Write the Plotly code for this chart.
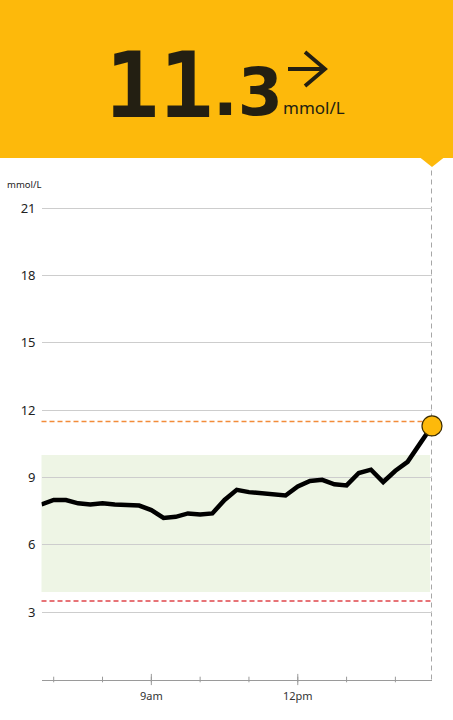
import pandas as pd
import plotly.graph_objects as go

# glucose readings every 15 minutes, 6:45 -> 14:45
times = pd.date_range("2024-05-14 06:45", "2024-05-14 14:45", freq="15min")
glucose = [7.8, 8.0, 8.0, 7.85, 7.8, 7.85, 7.8, 7.75, 7.75, 7.55, 7.2,
           7.25, 7.4, 7.35, 7.4, 8.0, 8.45, 8.35, 8.3, 8.2, 8.2, 8.6,
           8.85, 8.9, 8.7, 8.65, 9.2, 9.35, 8.8, 9.3, 9.7, 10.5, 11.3]

y_ticks = [3, 6, 9, 12, 15, 18, 21]
tick_hours = pd.date_range("2024-05-14 07:00", "2024-05-14 14:00", freq="1h")
label_times = ["2024-05-14 09:00", "2024-05-14 12:00"]
label_text = ["9am", "12pm"]

target_low, target_high = 3.9, 10.0
low_alarm = 3.5
high_alarm = 11.5
current = glucose[-1]

W, H = 453, 720
BANNER = "#FDB90B"
DARK = "#231F12"


def px(x, y):
    # pixel position -> paper coords
    return x / W, 1 - y / H


fig = go.Figure()

fig.add_trace(go.Scatter(
    x=times, y=glucose, mode="lines",
    line=dict(color="black", width=4.5),
    hoverinfo="skip"))

# last reading dot
fig.add_trace(go.Scatter(
    x=[times[-1]], y=[current], mode="markers",
    marker=dict(size=20, color=BANNER, line=dict(color="#3b2c00", width=1.2)),
    cliponaxis=False, hoverinfo="skip"))

# hour ticks crossing the axis line
major = [t for t in tick_hours if t.hour in (9, 12)]
fig.add_trace(go.Scatter(
    x=tick_hours, y=[0] * len(tick_hours), mode="markers",
    marker=dict(symbol="line-ns", size=4, line=dict(color="#9a9a9a", width=1)),
    cliponaxis=False, hoverinfo="skip"))
fig.add_trace(go.Scatter(
    x=major, y=[0] * len(major), mode="markers",
    marker=dict(symbol="line-ns", size=8, line=dict(color="#9a9a9a", width=1)),
    cliponaxis=False, hoverinfo="skip"))

# target range band
fig.add_shape(type="rect", xref="x domain", yref="y", x0=0, x1=0.995,
              y0=target_low, y1=target_high, fillcolor="#EEF5E5",
              line_width=0, layer="below")
fig.add_hline(y=high_alarm, line=dict(color="#F28C3A", width=1.4, dash="5px,3px"),
              layer="below")
fig.add_hline(y=low_alarm, line=dict(color="#E0464B", width=1.4, dash="5px,3px"),
              layer="below")

# banner
x0, y0 = px(0, 158)
fig.add_shape(type="rect", xref="paper", yref="paper", x0=0, x1=1, y0=y0, y1=1,
              fillcolor=BANNER, line_width=0)
a = px(420, 157.5)
b = px(432, 167)
c = px(444, 157.5)
fig.add_shape(type="path", xref="paper", yref="paper",
              path=f"M {a[0]},{a[1]} L {b[0]},{b[1]} L {c[0]},{c[1]} Z",
              fillcolor=BANNER, line_width=0)

# now line, kept under the dot
fig.add_shape(type="line", xref="x", yref="paper", x0=times[-1], x1=times[-1],
              y0=px(0, 679.5)[1], y1=b[1], layer="below",
              line=dict(color="#777777", width=1.3, dash="5px,4px"))

# trend arrow icon
s0, s1 = px(288, 69), px(325, 69)
h0, h1 = px(305, 52), px(305, 86)
fig.add_shape(type="path", xref="paper", yref="paper",
              path=f"M {s0[0]},{s0[1]} L {s1[0]},{s1[1]} M {h0[0]},{h0[1]} "
                   f"L {s1[0]},{s1[1]} L {h1[0]},{h1[1]}",
              line=dict(color=DARK, width=3.8))

p = px(159, 85)
fig.add_annotation(text="<b>11</b>", xref="paper", yref="paper", x=p[0], y=p[1],
                   xanchor="center", yanchor="middle", showarrow=False,
                   font=dict(family="DejaVu Sans Mono", size=90, color=DARK))
p = px(211, 92)
fig.add_annotation(text="<b>.3</b>", xref="paper", yref="paper", x=p[0], y=p[1],
                   xanchor="left", yanchor="middle", showarrow=False,
                   font=dict(family="DejaVu Sans", size=65, color=DARK))
p = px(281, 107)
fig.add_annotation(text="mmol/L", xref="paper", yref="paper", x=p[0], y=p[1],
                   xanchor="left", yanchor="middle", showarrow=False,
                   font=dict(family="Noto Sans", size=17, color=DARK))
p = px(5, 185)
fig.add_annotation(text="mmol/L", xref="paper", yref="paper", x=p[0], y=p[1],
                   xanchor="left", yanchor="middle", showarrow=False,
                   font=dict(family="Noto Sans", size=9.5, color="#222222"))

fig.update_layout(
    width=W, height=H,
    margin=dict(l=0, r=0, t=0, b=0),
    paper_bgcolor="white", plot_bgcolor="white",
    showlegend=False,
    font=dict(family="Noto Sans", color="#222222"),
    xaxis=dict(
        domain=[41.5 / W, 432 / W],
        range=[times[0], times[-1]],
        showgrid=False, zeroline=False,
        showline=True, linecolor="#9a9a9a", linewidth=1,
        tickvals=label_times, ticktext=label_text,
        ticks="", ticklabelstandoff=6,
        tickfont=dict(size=11, color="#333333"),
        fixedrange=True),
    yaxis=dict(
        domain=[px(0, 679.5)[1], px(0, 185.8)[1]],
        range=[0, 22],
        tickvals=y_ticks,
        showgrid=True, gridcolor="#CDCDCD", gridwidth=1,
        zeroline=False, showline=False, ticks="",
        ticklabelstandoff=5,
        tickfont=dict(size=13, color="#222222"),
        fixedrange=True),
)

fig.write_html("out.html", config={"displayModeBar": False},
               post_script="document.body.style.margin='0';"
                           "document.body.style.overflow='hidden';")
